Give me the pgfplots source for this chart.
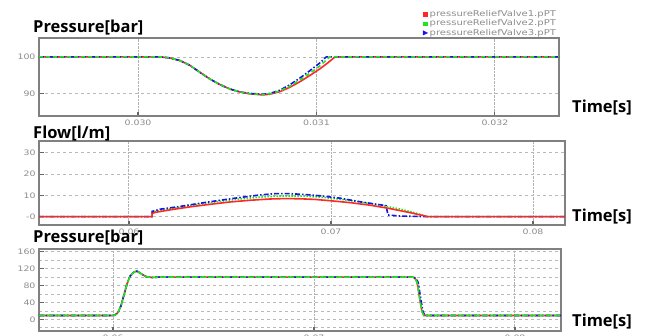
\documentclass[border=0pt]{standalone}
\usepackage{pgfplots}
\pgfplotsset{compat=1.18}
\usepackage{fontspec}
\setmainfont{DejaVu Sans}
\newfontfamily\labfont{Open Sans}
\newfontfamily\smallfont{DejaVu Sans}[FakeStretch=1.25]
\definecolor{cRed}{RGB}{255,40,40}
\definecolor{cGreen}{RGB}{30,230,30}
\definecolor{cBlue}{RGB}{20,20,230}
\definecolor{cFrame}{RGB}{128,128,128}
\definecolor{cTick}{RGB}{140,140,140}
\newcommand{\lab}[1]{{\labfont\bfseries\fontsize{16.5}{17}\selectfont #1}}
\pgfplotsset{
 myax/.style={
  scale only axis, anchor=south west,
  axis line style={draw=cFrame, line width=1.3pt},
  tick style={draw=black!60, line width=1.1pt},
  major tick length=4.5pt, minor tick length=0pt,
  tick align=inside, xtick pos=bottom, ytick pos=left,
  xmajorgrids, ymajorgrids,
  x grid style={densely dotted, gray!60, line width=1pt},
  y grid style={dash pattern=on 3pt off 3pt, gray!55, line width=0.7pt},
  minor y grid style={dash pattern=on 3pt off 3pt, gray!55, line width=0.7pt},
  tick label style={font=\smallfont\fontsize{7.5}{8}\selectfont, text=cTick},
 },
 rl/.style={cRed, line width=1.6pt},
 gl/.style={cGreen, line width=1.6pt, dash pattern=on 4pt off 3pt},
 bl/.style={cBlue, line width=1.6pt, dash pattern=on 5pt off 2pt on 1.5pt off 2pt},
}
\begin{document}
\begin{tikzpicture}
\path[use as bounding box] (0pt,0pt) rectangle (650pt,-335pt);
% Panel 1
\begin{axis}[myax, at={(39pt,-116pt)}, width=520pt, height=78pt,
  xmin=29.445, xmax=32.359, ymin=84, ymax=105.1,
  xtick={30,31,32}, xticklabels={0.030,0.031,0.032},
  ytick={90,100}, yticklabels={90,100},
  legend style={at={(rel axis cs:0.732,1.375)}, anchor=north west, draw=none, fill=none,
    font=\smallfont\fontsize{8}{8}\selectfont, text=cTick, row sep=2.6pt,
    nodes={inner sep=0pt, text height=5.6pt, text depth=1.1pt}, cells={anchor=west},
    /tikz/every odd column/.append style={column sep=2pt}},
  legend image code/.code={},
]
\addlegendimage{legend image code/.code={\fill[cRed] (1pt,-1.7pt) rectangle (4.4pt,1.7pt);}}
\addlegendentry{pressureReliefValve1.pPT}
\addlegendimage{legend image code/.code={\fill[cGreen] (1pt,-1.7pt) rectangle (4.4pt,1.7pt);}}
\addlegendentry{pressureReliefValve2.pPT}
\addlegendimage{legend image code/.code={\fill[cBlue] (0.5pt,-2.2pt) -- (0.5pt,2.2pt) -- (5pt,0pt) -- cycle;}}
\addlegendentry{pressureReliefValve3.pPT}
\addplot[rl, forget plot] coordinates {(29.445,100)(30.0,100)(30.123,100)(30.179,99.7)(30.235,99.0)(30.291,97.7)(30.347,95.8)(30.403,94.0)(30.459,92.5)(30.515,91.3)(30.571,90.5)(30.627,90.0)(30.700,89.7)(30.739,89.9)(30.796,90.6)(30.852,91.8)(30.908,93.3)(30.964,95.0)(31.020,96.8)(31.064,98.4)(31.104,100)(32.359,100)};
\addplot[bl, forget plot] coordinates {(29.445,100)(30.0,100)(30.123,100)(30.179,99.7)(30.235,99.0)(30.291,97.7)(30.347,95.8)(30.403,94.0)(30.459,92.5)(30.515,91.3)(30.571,90.5)(30.627,90.1)(30.700,89.9)(30.739,90.1)(30.796,91.0)(30.852,92.5)(30.908,94.3)(30.964,96.3)(31.020,98.4)(31.055,100)(32.359,100)};
\addplot[gl, forget plot] coordinates {(29.445,100)(30.0,100)(30.123,100)(30.179,99.7)(30.235,99.0)(30.291,97.7)(30.347,95.8)(30.403,94.0)(30.459,92.5)(30.515,91.3)(30.571,90.5)(30.627,90.0)(30.700,89.8)(30.739,90.0)(30.796,90.8)(30.852,92.1)(30.908,93.8)(30.964,95.6)(31.020,97.6)(31.075,100)(32.359,100)};
\end{axis}
% Panel 2
\begin{axis}[myax, at={(39pt,-225pt)}, width=526pt, height=84pt,
  xmin=55.545, xmax=81.584, ymin=-3.9, ymax=35.5,
  xtick={60,70,80}, xticklabels={0.06,0.07,0.08},
  ytick={0,10,20,30}, yticklabels={-0,10,20,30},
]
\addplot[gl, dash pattern=on 1.5pt off 1.5pt] coordinates {(55.545,0)(61.139,0)(61.150,2.2)(62.030,3.7)(63.515,5.9)(65.000,7.8)(66.485,9.2)(67.475,9.7)(68.465,9.7)(69.455,9.2)(70.446,8.2)(71.436,6.9)(72.426,5.4)(73.416,3.6)(74.158,1.8)(74.802,0)(81.584,0)};
\addplot[bl] coordinates {(55.545,0)(61.139,0)(61.150,2.5)(61.535,3.5)(62.525,4.8)(63.515,6.3)(64.505,7.7)(65.495,9.0)(66.485,10.2)(67.228,10.8)(67.970,10.8)(68.713,10.4)(69.455,9.8)(70.446,8.7)(71.436,7.0)(72.426,5.6)(72.723,5.2)(72.822,0.8)(73.416,0.3)(74.802,0)(81.584,0)};
\addplot[rl] coordinates {(55.545,0)(61.139,0)(61.150,1.5)(61.287,2.0)(62.030,3.2)(63.020,4.6)(64.010,5.8)(65.000,6.9)(65.990,7.7)(66.980,8.3)(67.723,8.5)(68.465,8.4)(69.208,8.1)(69.950,7.5)(70.941,6.6)(71.931,5.4)(72.921,3.8)(73.911,1.9)(74.802,0)(81.584,0)};
\end{axis}
% Panel 3
\begin{axis}[myax, at={(39pt,-331pt)}, width=522pt, height=82pt,
  xmin=56.318, xmax=82.289, ymin=-27.7, ymax=166.4,
  xtick={60,70,80}, xticklabels={0.06,0.07,0.08},
  ytick={0,40,80,120,160}, yticklabels={0,40,80,120,160},
  minor ytick={-20,20,60,100,140}, yminorgrids,
]
\addplot[rl] coordinates {(56.318,9)(60.0,9)(60.100,10)(60.249,16)(60.398,32)(60.547,58)(60.697,84)(60.846,102)(61.045,112)(61.194,114)(61.393,108)(61.642,101)(61.940,99)(62.338,100)(74.925,100)(75.025,97)(75.124,88)(75.174,75)(75.274,45)(75.373,18)(75.473,9)(82.289,9)};
\addplot[bl] coordinates {(56.318,9)(60.0,9)(60.100,10)(60.249,16)(60.398,32)(60.547,58)(60.697,84)(60.846,102)(61.045,112)(61.194,114)(61.393,108)(61.642,101)(61.940,99)(62.338,100)(74.925,100)(75.070,97)(75.174,88)(75.224,75)(75.324,45)(75.423,18)(75.523,9)(82.289,9)};
\addplot[gl, dash pattern=on 6pt off 2pt] coordinates {(56.318,9)(60.0,9)(60.100,10)(60.249,16)(60.398,32)(60.547,58)(60.697,84)(60.846,102)(61.045,112)(61.194,114)(61.393,108)(61.642,101)(61.940,99)(62.338,100)(74.925,100)(75.025,97)(75.124,88)(75.174,75)(75.274,45)(75.373,18)(75.473,9)(82.289,9)};
\end{axis}
% labels
\node[anchor=base west, inner sep=0pt] at (33pt,-32pt) {\lab{Pressure[bar]}};
\node[anchor=base west, inner sep=0pt] at (33pt,-138pt) {\lab{Flow[l/m]}};
\node[anchor=base west, inner sep=0pt] at (33pt,-242pt) {\lab{Pressure[bar]}};
\node[anchor=base west, inner sep=0pt] at (572pt,-112pt) {\lab{Time[s]}};
\node[anchor=base west, inner sep=0pt] at (572pt,-221.5pt) {\lab{Time[s]}};
\node[anchor=base west, inner sep=0pt] at (572pt,-326.5pt) {\lab{Time[s]}};
\end{tikzpicture}
\end{document}
